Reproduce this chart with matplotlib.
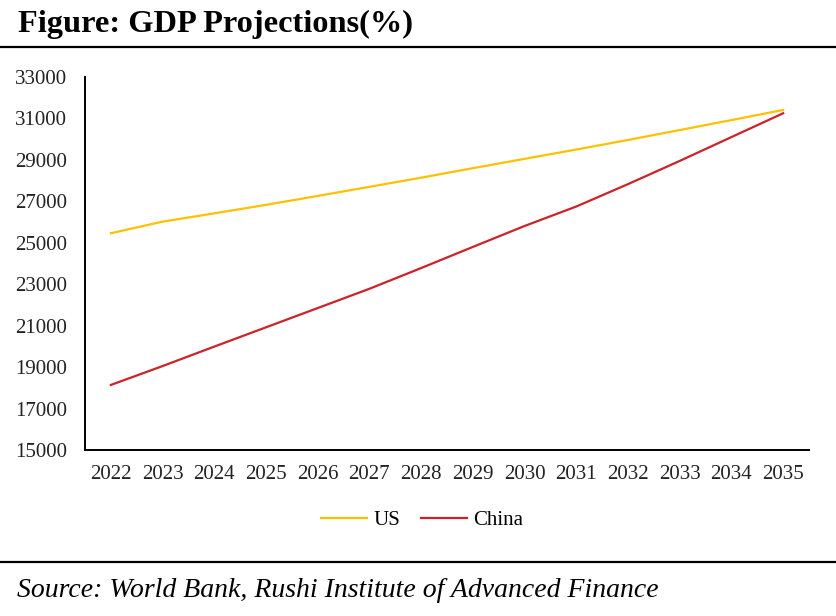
"""GDP projections, US vs China, 2022-2035."""

import matplotlib

matplotlib.use("Agg")
import matplotlib.pyplot as plt
from matplotlib.lines import Line2D

years = ["2022", "2023", "2024", "2025", "2026", "2027", "2028",
         "2029", "2030", "2031", "2032", "2033", "2034", "2035"]
us_gdp = [25460, 26020, 26420, 26830, 27260, 27700, 28140,
          28600, 29050, 29500, 29960, 30440, 30920, 31410]
china_gdp = [18140, 19050, 19990, 20920, 21850, 22780, 23780,
             24800, 25810, 26750, 27830, 28950, 30100, 31250]
y_ticks = list(range(15000, 33001, 2000))

W, H = 837, 616
plt.rcParams["font.family"] = ["Liberation Serif", "DejaVu Serif"]

fig = plt.figure(figsize=(W / 100, H / 100), dpi=100)
ax = fig.add_axes([85 / W, 1 - 450 / H, (809 - 85) / W, (450 - 77) / H])

x = list(range(len(years)))
ax.plot(x, us_gdp, color="#FFC000", lw=1.6, label="US")
ax.plot(x, china_gdp, color="#CC2229", lw=1.6, label="China")

ax.set_xlim(-0.5, len(years) - 0.5)
ax.set_ylim(15000, 33000)
ax.set_xticks(x)
ax.set_xticklabels(years)
ax.set_yticks(y_ticks)
ax.set_yticklabels([str(v) for v in y_ticks])
ax.tick_params(axis="both", length=0, labelsize=15, colors="#222222")
ax.tick_params(axis="y", pad=13)
ax.tick_params(axis="x", pad=11)
for side in ("top", "right"):
    ax.spines[side].set_visible(False)
for side in ("left", "bottom"):
    ax.spines[side].set_linewidth(1.4)
    ax.spines[side].set_color("black")

fig.legend(loc="center", bbox_to_anchor=(422 / W, 1 - 520 / H), ncol=2,
           frameon=False, fontsize=15, handlelength=2.2, handletextpad=0.3,
           columnspacing=1.0)

fig.text(18 / W, 1 - 32 / H, "Figure: GDP Projections(%)", fontsize=23.3,
         fontweight="bold", ha="left", va="baseline")
fig.add_artist(Line2D([0, 1], [1 - 47 / H] * 2, color="black", lw=1.6,
                      transform=fig.transFigure))
fig.add_artist(Line2D([0, 1], [1 - 562 / H] * 2, color="black", lw=1.6,
                      transform=fig.transFigure))
fig.text(17 / W, 1 - 597 / H,
         "Source: World Bank, Rushi Institute of Advanced Finance",
         fontsize=20, style="italic", ha="left", va="baseline")

fig.savefig("out.png", dpi=100)
